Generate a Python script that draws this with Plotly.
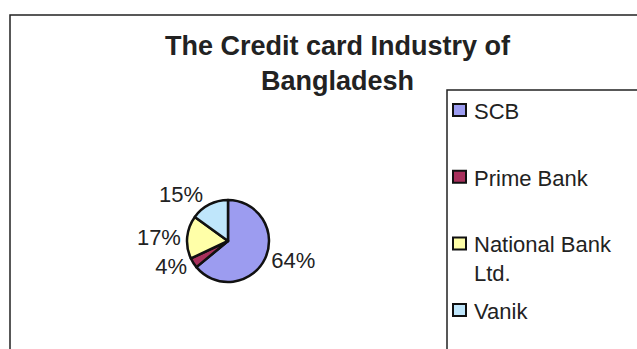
import plotly.graph_objects as go

# ---- data ----
categories = ["SCB", "Prime Bank", "National Bank Ltd.", "Vanik"]
legend_labels = ["SCB", "Prime Bank", "National Bank<br>Ltd.", "Vanik"]
shares = [64, 4, 17, 15]
colors = ["#9c9cf0", "#a8305c", "#ffffa8", "#bfe6fb"]
title_text = "The Credit card Industry of<br>Bangladesh"

W, H = 637, 349
def X(px): return px / W
def Y(py): return 1 - py / H

# pie geometry (pixels)
cx, cy, R = 228, 241, 41

fig = go.Figure()
fig.add_trace(go.Pie(
    labels=categories,
    values=shares,
    sort=False,
    direction="clockwise",
    rotation=0,
    marker=dict(colors=colors, line=dict(color="#111111", width=2.5)),
    textinfo="percent",
    texttemplate="%{percent:.0%}",
    textposition="outside",
    outsidetextfont=dict(family="Liberation Sans, Arial", size=22, color="#222222"),
    domain=dict(x=[X(cx - R), X(cx + R)], y=[Y(cy + R), Y(cy - R)]),
    showlegend=False,
    hoverinfo="label+percent",
))

shapes = []
annotations = []
# outer chart frame
shapes.append(dict(type="rect", xref="paper", yref="paper",
                   x0=X(10), x1=X(660), y0=Y(370), y1=Y(15),
                   line=dict(color="#222222", width=1.5), fillcolor="rgba(0,0,0,0)"))
# legend frame
shapes.append(dict(type="rect", xref="paper", yref="paper",
                   x0=X(447), x1=X(660), y0=Y(370), y1=Y(90),
                   line=dict(color="#222222", width=1.5), fillcolor="rgba(0,0,0,0)"))

# manual legend
for i, (lab, col) in enumerate(zip(legend_labels, colors)):
    yc = 110 + i * 66.7
    shapes.append(dict(type="rect", xref="paper", yref="paper",
                       x0=X(453), x1=X(466), y0=Y(yc + 6), y1=Y(yc - 6),
                       line=dict(color="#111111", width=2), fillcolor=col))
    annotations.append(dict(text=lab, xref="paper", yref="paper",
                            x=X(472), y=Y(yc - 13), xanchor="left", yanchor="top",
                            showarrow=False, align="left",
                            font=dict(family="Liberation Sans, Arial", size=22, color="#222222")))

# title
annotations.append(dict(text=title_text, xref="paper", yref="paper",
                        x=X(338), y=Y(29), xanchor="center", yanchor="top",
                        showarrow=False, align="center",
                        font=dict(family="Liberation Sans, Arial", size=27, color="#222222",
                                  weight="bold")))

fig.update_layout(
    width=W, height=H,
    margin=dict(l=0, r=0, t=0, b=0),
    paper_bgcolor="white", plot_bgcolor="white",
    shapes=shapes,
    annotations=annotations,
)

fig.write_html("out.html")
